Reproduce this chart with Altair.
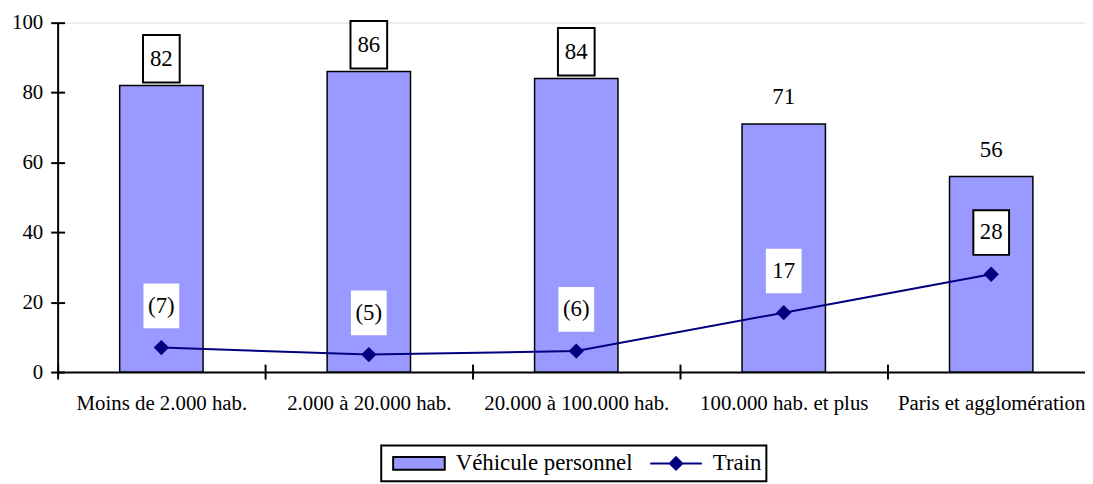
import altair as alt
import pandas as pd

categories = ["Moins de 2.000 hab.", "2.000 à 20.000 hab.", "20.000 à 100.000 hab.",
              "100.000 hab. et plus", "Paris et agglomération"]
vehicule = [82, 86, 84, 71, 56]
train = [7, 5, 6, 17, 28]
vehicule_labels = ["82", "86", "84", "71", "56"]
train_labels = ["(7)", "(5)", "(6)", "17", "28"]
vehicule_boxed = [True, True, True, False, False]
train_boxed = [False, False, False, False, True]
series = ["Véhicule personnel", "Train"]
y_ticks = [0, 20, 40, 60, 80, 100]

df = pd.DataFrame({
    "category": categories,
    "vehicule": vehicule,
    "train": train,
    "vlabel": vehicule_labels,
    "tlabel": train_labels,
    "vboxed": vehicule_boxed,
    "tboxed": train_boxed,
})
leg_df = pd.DataFrame({"series": series})

FONT = "Liberation Serif"
NAVY = "#000080"
LAV = "#9999FF"

x_scale = alt.Scale(domain=categories, range=[0, 1045], paddingInner=0, paddingOuter=0)
y_scale = alt.Scale(domain=[0, 100], nice=False)

axis_x_main = alt.Axis(orient="bottom", title=None, tickBand="extent", domainColor="black",
                       domainWidth=2, tickColor="black", tickWidth=2, tickSize=7,
                       labelFont=FONT, labelFontSize=21, labelColor="black", labelPadding=14,
                       labelAngle=0, grid=False, labelLimit=0)
axis_x_in = alt.Axis(orient="bottom", title=None, tickBand="extent", domain=False, labels=False,
                     tickColor="black", tickWidth=2, tickSize=8, offset=-8, grid=False)
axis_y_main = alt.Axis(orient="left", title=None, values=y_ticks, domainColor="black",
                       domainWidth=2, tickColor="black", tickWidth=2, tickSize=7,
                       labelFont=FONT, labelFontSize=21, labelColor="black", labelPadding=8,
                       grid=False)
axis_y_in = alt.Axis(orient="left", title=None, values=y_ticks, domain=False, labels=False,
                     tickColor="black", tickWidth=2, tickSize=7, offset=-7, grid=False)

base = alt.Chart(df)

bars = base.mark_bar(size=84, color=LAV, stroke="black", strokeWidth=1.5).encode(
    x=alt.X("category:N", scale=x_scale, axis=axis_x_main),
    y=alt.Y("vehicule:Q", scale=y_scale, axis=axis_y_main),
)

line = base.mark_line(color=NAVY, strokeWidth=2).encode(
    x=alt.X("category:N", scale=x_scale, axis=axis_x_in),
    y=alt.Y("train:Q", scale=y_scale, axis=axis_y_in),
)

points = base.mark_point(shape="diamond", filled=True, color=NAVY, size=240, opacity=1).encode(
    x=alt.X("category:N", scale=x_scale, axis=None),
    y=alt.Y("train:Q", scale=y_scale, axis=None),
)

BOX_V = "M-0.77,-1L0.77,-1L0.77,1L-0.77,1Z"
BOX_T = "M-0.8,-1L0.8,-1L0.8,1L-0.8,1Z"

vbox = base.mark_point(shape=BOX_V, size=2304, filled=True, fill="white", stroke="black",
                       strokeWidth=2, opacity=1, yOffset=-27).encode(
    x=alt.X("category:N", scale=x_scale, axis=None),
    y=alt.Y("vehicule:Q", scale=y_scale, axis=None),
    strokeOpacity=alt.condition("datum.vboxed", alt.value(1), alt.value(0)),
)
vtext = base.mark_text(font=FONT, fontSize=23, color="black", baseline="middle", dy=-27).encode(
    x=alt.X("category:N", scale=x_scale, axis=None),
    y=alt.Y("vehicule:Q", scale=y_scale, axis=None),
    text="vlabel:N",
)

tbox = base.mark_point(shape=BOX_T, size=2025, filled=True, fill="white", stroke="black",
                       strokeWidth=2, opacity=1, yOffset=-42).encode(
    x=alt.X("category:N", scale=x_scale, axis=None),
    y=alt.Y("train:Q", scale=y_scale, axis=None),
    strokeOpacity=alt.condition("datum.tboxed", alt.value(1), alt.value(0)),
)
ttext = base.mark_text(font=FONT, fontSize=23, color="black", baseline="middle", dy=-42).encode(
    x=alt.X("category:N", scale=x_scale, axis=None),
    y=alt.Y("train:Q", scale=y_scale, axis=None),
    text="tlabel:N",
)

LEG_RECT = "M-1,-0.25L1,-0.25L1,0.25L-1,0.25Z"
LEG_TRAIN = "M-1,0L1,0M0,-0.24L0.24,0L0,0.24L-0.24,0Z"

leg = alt.Legend(title=None, orient="none", legendX=326, legendY=426, direction="horizontal",
                 symbolSize=2704, clipHeight=26, symbolOffset=6, labelOffset=10,
                 columnPadding=10, padding=5, strokeColor="black", labelFont=FONT,
                 labelFontSize=23, labelColor="black", symbolStrokeWidth=2, labelLimit=0,
                 cornerRadius=0)

legend_layer = alt.Chart(leg_df).mark_point(filled=True, opacity=1, strokeWidth=2).encode(
    shape=alt.Shape("series:N", scale=alt.Scale(domain=series, range=[LEG_RECT, LEG_TRAIN]), legend=leg),
    fill=alt.Fill("series:N", scale=alt.Scale(domain=series, range=[LAV, NAVY]), legend=leg),
    stroke=alt.Stroke("series:N", scale=alt.Scale(domain=series, range=["black", NAVY]), legend=leg),
).transform_filter("false")

chart = alt.layer(bars, line, points, vbox, vtext, tbox, ttext, legend_layer).resolve_axis(
    x="independent", y="independent"
).properties(
    width=1035, height=352,
    autosize=alt.AutoSizeParams(type="none"),
    padding={"left": 50, "top": 13, "right": 0, "bottom": 111},
).configure_view(stroke=None).configure(font=FONT).configure_legend(strokeWidth=2)

chart.save("out.html", embed_options={"renderer": "svg", "actions": False})
